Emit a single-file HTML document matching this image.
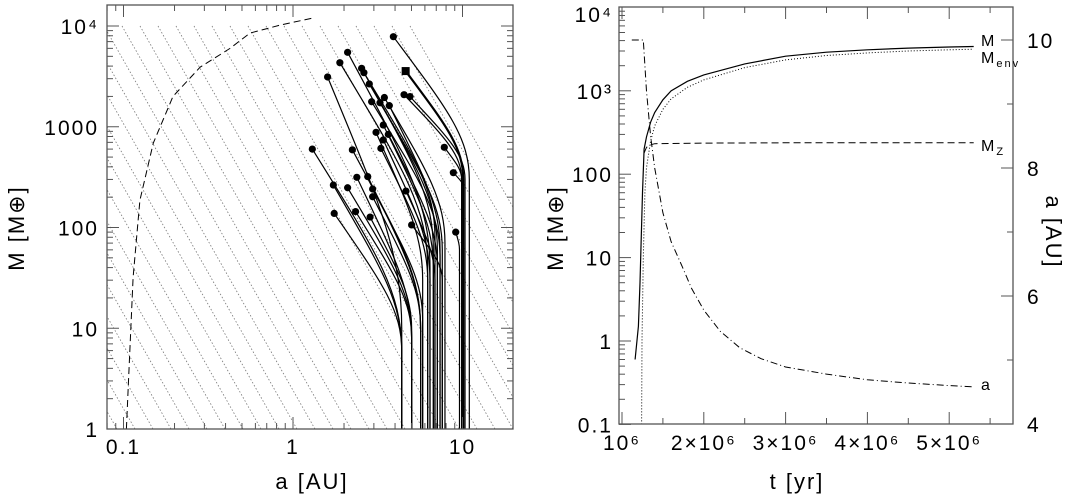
<!DOCTYPE html>
<html><head><meta charset="utf-8"><style>
html,body{margin:0;padding:0;background:#fff}
svg{display:block}
text{font-family:"Liberation Sans",sans-serif;fill:#000;letter-spacing:2px}
</style></head><body>
<svg id="fig" width="1071" height="496" viewBox="0 0 1071 496" xmlns="http://www.w3.org/2000/svg">
<g id="left"></g>
<g id="right"></g>
</svg>
<script>
// ---------- LEFT PANEL DATA ----------
const dotA = [3.91,2.10,1.89,1.60,2.54,2.62,2.82,2.91,3.26,3.46,3.70,3.41,3.09,3.65,3.41,3.30,1.30,2.24,1.73,2.10,2.38,2.76,2.95,2.95,1.75,2.34,2.85,4.52,4.90,4.64,5.01,7.81,8.83,9.12];
const dotM = [7830,5480,4320,3120,3800,3440,2660,1770,1730,1950,1620,1040,880,840,740,610,600,590,264,248,315,320,241,202,138,144,127,2080,1990,230,106,625,350,90];
const startA = [10.97,6.43,6.23,4.38,6.73,6.88,7.11,7.37,7.60,7.88,7.37,6.73,5.82,7.11,6.43,6.23,4.38,5.66,4.38,5.01,5.01,5.66,5.82,5.66,4.38,5.01,5.01,9.89,10.35,6.88,7.60,9.89,10.1,9.6];
const kneeM = [300,40,40,10,60,80,60,50,60,70,60,40,30,40,30,30,6,10,6,8,8,10,12,10,6,8,10,300,300,30,30,300,250,60];
const squareA = [4.62], squareM = [3570], squareStart = [10.1], squareKnee = [300];
const dashA = [0.104,0.107,0.114,0.125,0.150,0.196,0.283,0.425,0.557,0.84,1.31];
const dashM = [1,3,32,186,690,2000,3900,6000,8500,10200,12000];
const leftYTicks = [1,10,100,1000,10000];
const leftYLabels = ["1","10","100","1000","10⁴"];
const leftXTicks = [0.1,1,10];
const leftXLabels = ["0.1","1","10"];

// ---------- RIGHT PANEL DATA ----------
const tM = [1.16,1.2,1.22,1.25,1.27,1.3,1.35,1.4,1.5,1.6,1.8,2.0,2.5,3.0,3.5,4.0,4.5,5.0,5.3];
const vM = [0.6,1.5,5,60,200,280,420,550,780,1000,1300,1550,2100,2600,2900,3100,3250,3350,3400];
const tEnv = [1.24,1.245,1.26,1.28,1.3,1.35,1.4,1.5,1.6,1.8,2.0,2.5,3.0,3.5,4.0,4.5,5.0,5.3];
const vEnv = [0.1,1,10,60,120,250,380,600,800,1100,1350,1900,2350,2650,2850,3000,3100,3150];
const tZ = [1.27,1.3,1.35,1.4,2,3,4,5,5.3];
const vZ = [180,210,225,232,236,238,238,238,238];
const tA = [1.12,1.26,1.3,1.35,1.4,1.5,1.6,1.74,1.85,2.0,2.2,2.44,2.7,3.0,3.5,4.0,4.5,5.0,5.3];
const vA = [10,10,9.2,8.5,8.0,7.3,6.85,6.45,6.12,5.78,5.45,5.19,5.02,4.89,4.78,4.69,4.64,4.6,4.58];
const rYTicks = [0.1,1,10,100,1000,10000];
const rYLabels = ["0.1","1","10","100","10³","10⁴"];
const rXTicks = [1,2,3,4,5];
const rXLabels = ["10⁶","2×10⁶","3×10⁶","4×10⁶","5×10⁶"];
const rATicks = [4,6,8,10];
const rALabels = ["4","6","8","10"];

const NS="http://www.w3.org/2000/svg";
function mk(tag,attrs,parent){const e=document.createElementNS(NS,tag);for(const k in attrs)e.setAttribute(k,attrs[k]);parent.appendChild(e);return e;}

// ---------- LEFT ----------
const L=document.getElementById('left');
const LX0=107,LX1=513,LY0=5,LY1=429;
const lx=a=>293+169.5*Math.log10(a);
const ly=m=>429-100.75*Math.log10(m);
const defs=mk('defs',{},L);
const cp=mk('clipPath',{id:'lclip'},defs);
mk('rect',{x:LX0,y:LY0,width:LX1-LX0,height:LY1-LY0},cp);
const hatch=mk('g',{'clip-path':'url(#lclip)'},L);


for(let x0=-400;x0<=418;x0+=18){
  const ln=mk('line',{x1:x0,y1:26,x2:x0+(429-26)/1.76,y2:429,stroke:'#777','stroke-width':0.8,'stroke-dasharray':'1.5,2'},hatch);
  
  
}
let d='';dashA.forEach((a,i)=>{d+=(i?'L':'M')+lx(a).toFixed(1)+','+ly(dashM[i]).toFixed(1);});
const dc=mk('path',{d:d,fill:'none',stroke:'#000','stroke-width':1,'stroke-dasharray':'7,4','clip-path':'url(#lclip)'},L);


const tracks=mk('g',{'clip-path':'url(#lclip)'},L);


function track(a0,k,a1,m1,w){
  const x0=lx(a0),yk=ly(k),xd=lx(a1),yd=ly(m1);
  const dd=`M${x0},${LY1}L${x0},${yk}C${x0},${yk-(yk-yd)*0.3} ${x0-(x0-xd)*0.3},${yk-(yk-yd)*0.5} ${xd},${yd}`;
  return mk('path',{d:dd,fill:'none',stroke:'#000','stroke-width':w},tracks);
}
dotA.forEach((a,i)=>{
  const p=track(startA[i],kneeM[i],a,dotM[i],1.2);
  
  
  const c=mk('circle',{cx:lx(a),cy:ly(dotM[i]),r:3.6,fill:'#000'},L);
  
  
});
squareA.forEach((a,i)=>{
  const p=track(squareStart[i],squareKnee[i],a,squareM[i],2.2);
  
  
  const s=mk('rect',{x:lx(a)-4,y:ly(squareM[i])-4,width:8,height:8,fill:'#000'},L);
  
  
});
const lf=mk('rect',{x:LX0,y:LY0,width:LX1-LX0,height:LY1-LY0,fill:'none',stroke:'#555','stroke-width':1.3},L);


const lt=mk('g',{stroke:'#555','stroke-width':1},L);
for(let e=0;e<5;e++)for(let m=1;m<10;m++){const v=m*Math.pow(10,e);if(v>16000)break;const y=ly(v);if(y<LY0)continue;const len=m==1?12:6;
  mk('line',{x1:LX0,y1:y,x2:LX0+len,y2:y},lt);mk('line',{x1:LX1,y1:y,x2:LX1-len,y2:y},lt);}
for(let e=-2;e<2;e++)for(let m=1;m<10;m++){const v=m*Math.pow(10,e);const x=lx(v);if(x<LX0||x>LX1)continue;const len=m==1?12:6;
  mk('line',{x1:x,y1:LY1,x2:x,y2:LY1-len},lt);mk('line',{x1:x,y1:LY0,x2:x,y2:LY0+len},lt);}
leftYTicks.forEach((v,i)=>{const t=mk('text',{x:LX0-8,y:ly(v)+8,'text-anchor':'end','font-size':21},L);t.textContent=leftYLabels[i];
  });
leftXTicks.forEach((v,i)=>{const t=mk('text',{x:lx(v),y:454,'text-anchor':'middle','font-size':21},L);t.textContent=leftXLabels[i];
  });
let t=mk('text',{x:312,y:489,'text-anchor':'middle','font-size':22},L);t.textContent='a [AU]';

t=mk('text',{x:0,y:0,'text-anchor':'middle','font-size':22,transform:'translate(24,228) rotate(-90)'},L);t.textContent='M [M⊕]';


// ---------- RIGHT ----------
const R=document.getElementById('right');
const RX0=619,RX1=1013,RY0=7,RY1=424;
const rx=tt=>622+81.8*(tt-1);
const ry=m=>341-83.4*Math.log10(m);
const ra=a=>40+64*(10-a);
function line(ts,vs,f,attrs,name){let dd='';ts.forEach((tt,i)=>{dd+=(i?'L':'M')+rx(tt).toFixed(1)+','+f(vs[i]).toFixed(1);});
  const p=mk('path',Object.assign({d:dd,fill:'none',stroke:'#000'},attrs),R);}
line(tM,vM,ry,{'stroke-width':1.2},'total-mass-line');
line(tEnv,vEnv,ry,{'stroke-width':1,'stroke-dasharray':'1,2'},'envelope-mass-line');
line(tZ,vZ,ry,{'stroke-width':1,'stroke-dasharray':'7,4'},'heavy-element-mass-line');
line(tA,vA,ra,{'stroke-width':1,'stroke-dasharray':'7,3,1,3'},'semi-major-axis-line');
const rf=mk('rect',{x:RX0,y:RY0,width:RX1-RX0,height:RY1-RY0,fill:'none',stroke:'#555','stroke-width':1.3},R);

const rt=mk('g',{stroke:'#555','stroke-width':1},R);
for(let e=-1;e<4;e++)for(let m=1;m<10;m++){const v=m*Math.pow(10,e);const y=ry(v);const len=m==1?12:6;mk('line',{x1:RX0,y1:y,x2:RX0+len,y2:y},rt);}
for(let a=4;a<=10;a++){const y=ra(a);const len=a%2==0?12:6;mk('line',{x1:RX1,y1:y,x2:RX1-len,y2:y},rt);}
for(let k=1;k<=5.5;k+=0.5){const x=rx(k);const len=k%1==0?12:6;mk('line',{x1:x,y1:RY1,x2:x,y2:RY1-len},rt);mk('line',{x1:x,y1:RY0,x2:x,y2:RY0+len},rt);}
rYTicks.forEach((v,i)=>{const tt=mk('text',{x:RX0-6,y:Math.max(ry(v)+8,22),'text-anchor':'end','font-size':21},R);tt.textContent=rYLabels[i];
  });
rXTicks.forEach((v,i)=>{const tt=mk('text',{x:rx(v),y:450,'text-anchor':'middle','font-size':21},R);tt.textContent=rXLabels[i];
  });
rATicks.forEach((v,i)=>{const tt=mk('text',{x:RX1+14,y:ra(v)+8,'text-anchor':'start','font-size':21},R);tt.textContent=rALabels[i];
  });
t=mk('text',{x:797,y:489,'text-anchor':'middle','font-size':22},R);t.textContent='t [yr]';

t=mk('text',{x:0,y:0,'text-anchor':'middle','font-size':22,transform:'translate(563,228) rotate(-90)'},R);t.textContent='M [M⊕]';

t=mk('text',{x:0,y:0,'text-anchor':'middle','font-size':22,transform:'translate(1046,232) rotate(90)'},R);t.textContent='a [AU]';

const labs=[['M',46,'label-M'],['M',63,'label-Menv','env'],['M',151,'label-Mz','Z'],['a',390,'label-a']];
labs.forEach(l=>{const tt=mk('text',{x:981,y:l[1],'font-size':16,'letter-spacing':0},R);tt.textContent=l[0];
  if(l[3]){const s=mk('tspan',{'font-size':11,dy:4},tt);s.textContent=l[3];}
  });
</script>
</body></html>
